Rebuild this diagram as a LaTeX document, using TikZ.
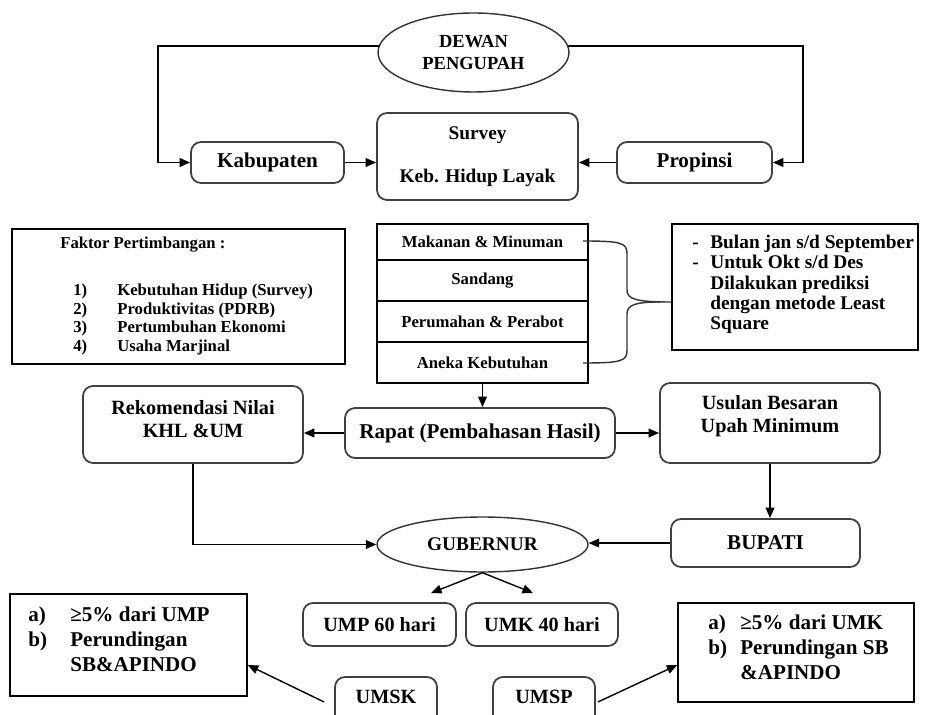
\documentclass[tikz,border=0pt]{standalone}
\usepackage{fontspec}
\setmainfont{Liberation Serif}
\usetikzlibrary{arrows.meta,shapes.geometric}

\begin{document}
\begin{tikzpicture}[x=0.02cm,y=-0.02cm,
  font=\bfseries,
  rbox/.style={draw=black!75, line width=1pt, rounded corners=0.2cm, inner sep=0pt},
  sbox/.style={draw=black, line width=0.8pt, inner sep=0pt},
  oval/.style={ellipse, draw=black!80, line width=0.8pt, inner sep=0pt},
  txt/.style={inner sep=0pt, align=center},
  arr/.style={draw=black, line width=0.8pt, -{Triangle[length=6pt,width=5pt]}},
  fbig/.style={font=\bfseries\fontsize{12}{14.2}\selectfont},
  fmid/.style={font=\bfseries\fontsize{11.5}{13}\selectfont},
  fsmall/.style={font=\bfseries\fontsize{9.5}{10.8}\selectfont}
]
\useasboundingbox (0,0) rectangle (925,715);
\fill[white] (0,0) rectangle (925,715);

% --- top: wage council and survey ---
\node[oval, minimum width=3.82cm, minimum height=1.58cm, font=\bfseries\fontsize{10.5}{13}\selectfont, align=center]
  (dewan) at (473.5,52.5) {DEWAN\\PENGUPAH};
\node[rbox, fbig, minimum width=3.06cm, minimum height=0.82cm] (kab) at (267.5,162.5) {Kabupaten};
\node[rbox, font=\bfseries\fontsize{11}{13.5}\selectfont, align=center, minimum width=4.02cm, minimum height=1.74cm]
  (survey) at (477.5,156.5) {Survey\\[11pt]Keb. Hidup Layak};
\node[rbox, fbig, minimum width=3.1cm, minimum height=0.82cm] (prop) at (694.5,162.5) {Propinsi};

\draw[arr] (dewan.176) -| ([xshift=-0.64cm]kab.west) -- (kab.west);
\draw[arr] (dewan.4) -| ([xshift=0.6cm]prop.east) -- (prop.east);
\draw[arr] (kab.east) -- (kab.east -| survey.west);
\draw[arr] (prop.west) -- (prop.west -| survey.east);

% --- considerations ---
\node[sbox, minimum width=6.66cm, minimum height=2.7cm] (faktor) at (178.5,296.5) {};
\node[txt, fsmall, anchor=west] (faktortitle) at (60,245) {Faktor Pertimbangan :};
\node[txt, fsmall, anchor=west, align=left] (faktoritems) at (73,319.5)
  {\makebox[0.88cm][l]{1)}Kebutuhan Hidup (Survey)\\
   \makebox[0.88cm][l]{2)}Produktivitas (PDRB)\\
   \makebox[0.88cm][l]{3)}Pertumbuhan Ekonomi\\
   \makebox[0.88cm][l]{4)}Usaha Marjinal};

% --- needs table ---
\node[sbox, fsmall, minimum width=4.22cm, minimum height=0.72cm] (row1) at (482.5,242) {Makanan \& Minuman};
\node[sbox, fsmall, minimum width=4.22cm, minimum height=0.82cm] (row2) at (482.5,280.5) {Sandang};
\node[sbox, fsmall, minimum width=4.22cm, minimum height=0.82cm] (row3) at (482.5,321.5) {Perumahan \& Perabot};
\node[sbox, fsmall, minimum width=4.22cm, minimum height=0.82cm] (row4) at (482.5,362.5) {Aneka Kebutuhan};

% brace grouping the table rows
\draw[draw=black!80, line width=0.8pt]
  (583,241) .. controls (622,241) and (627,243) .. (627,254) -- (627,290)
  .. controls (627,299) and (635,302) .. (672,302);
\draw[draw=black!80, line width=0.8pt]
  (660,302) .. controls (635,302) and (627,305) .. (627,314) -- (627,350)
  .. controls (627,361) and (622,363) .. (583,363);

% --- note on months ---
\node[sbox, minimum width=4.92cm, minimum height=2.52cm] (note) at (795,287) {};
\node[txt, anchor=west, align=left, font=\bfseries\fontsize{11}{11.5}\selectfont] (notetext) at (692,284.5)
  {\makebox[0.36cm][l]{-}Bulan jan s/d September\\
   \makebox[0.36cm][l]{-}Untuk Okt s/d Des\\
   \hspace*{0.36cm}Dilakukan prediksi\\
   \hspace*{0.36cm}dengan metode Least\\
   \hspace*{0.36cm}Square};

% --- meeting and results ---
\node[rbox, fbig, minimum width=5.4cm, minimum height=1.0cm] (rapat) at (480,433) {Rapat (Pembahasan Hasil)};
\node[rbox, minimum width=4.4cm, minimum height=1.54cm,
  label={[txt, fmid, yshift=0.1cm]center:Rekomendasi Nilai\\KHL \&UM}] (rek) at (193,424.5) {};
\node[rbox, minimum width=4.4cm, minimum height=1.6cm,
  label={[txt, fmid, yshift=0.13cm]center:Usulan Besaran\\Upah Minimum}] (usulan) at (770,423) {};

\draw[arr] (row4.south) -- (row4.south |- rapat.north);
\draw[arr] (rapat.west) -- (rapat.west -| rek.east);
\draw[arr] (rapat.east) -- (rapat.east -| usulan.west);

\node[rbox, fbig, minimum width=3.78cm, minimum height=0.96cm] (bupati) at (765.5,543) {BUPATI};
\node[oval, font=\bfseries\fontsize{11}{13}\selectfont, minimum width=4.22cm, minimum height=1.1cm] (gub) at (482.5,544.5) {GUBERNUR};

\draw[arr] (usulan.south) -- (usulan.south |- bupati.north);
\draw[arr] (rek.south) |- (gub.west);
\draw[arr] (bupati.west) -- (bupati.west -| gub.east);

\coordinate (umptip) at (431,593);
\coordinate (umktip) at (533,593);
\draw[arr] (gub.south) -- (umptip);
\draw[arr] (gub.south) -- (umktip);

\node[rbox, fmid, minimum width=3.06cm, minimum height=0.86cm] (ump) at (379.5,624.5) {UMP 60 hari};
\node[rbox, fmid, minimum width=3.04cm, minimum height=0.86cm] (umk) at (542,624.5) {UMK 40 hari};

\node[rbox, minimum width=2.04cm, minimum height=1.0cm,
  label={[txt, fmid, yshift=0.1cm]center:UMSK}] (umsk) at (386,702) {};
\node[rbox, minimum width=2.04cm, minimum height=1.0cm,
  label={[txt, fmid, yshift=0.1cm]center:UMSP}] (umsp) at (544,702) {};

% --- sectoral notes ---
\node[sbox, minimum width=4.74cm, minimum height=2.04cm] (leftnote) at (128.5,645) {};
\node[txt, fbig, anchor=west, align=left] (leftnotetext) at (28,639)
  {\makebox[0.84cm][l]{a)}≥5\% dari UMP\\
   \makebox[0.84cm][l]{b)}Perundingan\\
   \hspace*{0.84cm}SB\&APINDO};
\node[sbox, minimum width=4.72cm, minimum height=1.98cm] (rightnote) at (796,652.5) {};
\node[txt, fbig, anchor=west, align=left] (rightnotetext) at (708,647)
  {\makebox[0.64cm][l]{a)}≥5\% dari UMK\\
   \makebox[0.64cm][l]{b)}Perundingan SB\\
   \hspace*{0.64cm}\&APINDO};

\draw[arr] ([xshift=-0.2cm]umsk.west) -- ([yshift=-0.4cm]leftnote.east);
\draw[arr] ([xshift=0.04cm]umsp.east) -- ([yshift=-0.25cm]rightnote.west);
\end{tikzpicture}
\end{document}
